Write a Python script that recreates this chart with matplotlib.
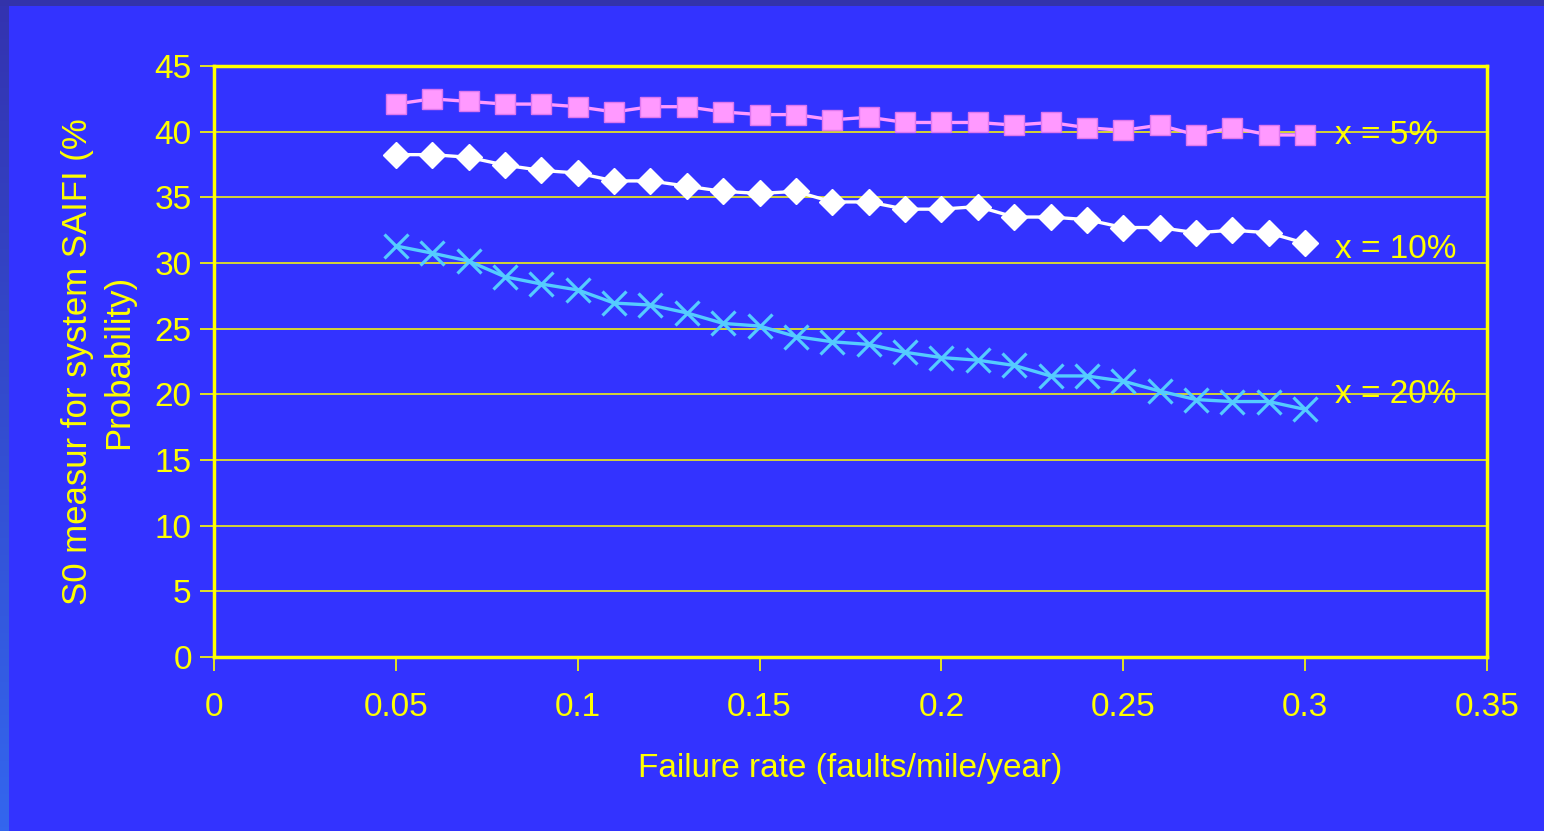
import matplotlib
matplotlib.use("Agg")
import matplotlib.pyplot as plt
import numpy as np
from matplotlib.patches import Rectangle

plt.rcParams['font.family'] = ['Liberation Sans', 'DejaVu Sans']

# failure rate (faults/mile/year)
rate = [0.05, 0.06, 0.07, 0.08, 0.09, 0.10, 0.11, 0.12, 0.13, 0.14, 0.15, 0.16, 0.17,
        0.18, 0.19, 0.20, 0.21, 0.22, 0.23, 0.24, 0.25, 0.26, 0.27, 0.28, 0.29, 0.30]

# S0 measure (% probability) for each x
x5 = [42.1, 42.5, 42.3, 42.1, 42.1, 41.9, 41.5, 41.9, 41.9, 41.5, 41.3, 41.3, 40.9,
      41.1, 40.7, 40.7, 40.7, 40.5, 40.7, 40.3, 40.1, 40.5, 39.75, 40.3, 39.75, 39.75]
x10 = [38.25, 38.25, 38.05, 37.45, 37.05, 36.85, 36.25, 36.25, 35.85, 35.45, 35.3, 35.45, 34.65,
       34.65, 34.1, 34.1, 34.3, 33.5, 33.5, 33.3, 32.7, 32.7, 32.3, 32.5, 32.3, 31.5]
x20 = [31.3, 30.75, 30.15, 28.95, 28.4, 27.95, 26.95, 26.8, 26.2, 25.4, 25.2, 24.4, 24.0,
       23.8, 23.2, 22.8, 22.6, 22.2, 21.4, 21.4, 21.0, 20.25, 19.6, 19.45, 19.45, 18.85]

series_labels = ['x = 5%', 'x = 10%', 'x = 20%']
label_y = [39.7, 31.0, 20.0]

xticks = [0, 0.05, 0.1, 0.15, 0.2, 0.25, 0.3, 0.35]
xticklabels = ['0', '0.05', '0.1', '0.15', '0.2', '0.25', '0.3', '0.35']
yticks = list(range(0, 50, 5))

BG = '#3333FF'
YEL = '#FFFF00'

fig = plt.figure(figsize=(15.44, 8.31), dpi=100)
fig.patch.set_facecolor(BG)

# dark strip on top, shaded strip on the left
fig.patches.append(Rectangle((0, 1 - 6 / 831), 1, 6 / 831, transform=fig.transFigure,
                             facecolor='#3333AA', edgecolor='none', zorder=0))
strip = fig.add_axes([0, 0, 9 / 1544, 1 - 6 / 831])
strip.imshow(np.linspace(0, 1, 200).reshape(-1, 1), aspect='auto',
             cmap=matplotlib.colors.LinearSegmentedColormap.from_list('s', ['#3333B0', '#3366EE']))
strip.axis('off')

ax = fig.add_axes([214 / 1544, 1 - 657 / 831, (1487 - 214) / 1544, (657 - 66) / 831])
ax.set_facecolor(BG)

ax.plot(rate, x5, color='#FF99FF', lw=2.4, marker='s', ms=14.5,
        mfc='#FF99FF', mec='#DD77EE', mew=1, zorder=3)
ax.plot(rate, x10, color='white', lw=2.4, marker='D', ms=13,
        mfc='white', mec='white', mew=1, zorder=3)
ax.plot(rate, x20, color='#55CCFF', lw=2.4, marker='x', ms=17,
        mec='#55CCFF', mew=2.3, zorder=3)

for txt, yv in zip(series_labels, label_y):
    ax.text(0.3082, yv, txt, color=YEL, fontsize=24, ha='left', va='center', zorder=4)

ax.set_xlim(0, 0.35)
ax.set_ylim(0, 45)
ax.set_xticks(xticks)
ax.set_xticklabels(xticklabels)
ax.set_yticks(yticks)

ax.grid(axis='y', color=YEL, lw=1.1, zorder=1)
ax.set_axisbelow(True)
for s in ax.spines.values():
    s.set_color(YEL)
    s.set_linewidth(2.5)

ax.tick_params(colors=YEL, labelsize=24, length=10, width=1.2, direction='out')
ax.tick_params(axis='x', pad=15)
ax.tick_params(axis='y', pad=6)

ax.set_xlabel('Failure rate (faults/mile/year)', color=YEL, fontsize=24, labelpad=22)
ax.set_ylabel('S0 measur for system SAIFI (%\nProbability)', color=YEL, fontsize=25,
              labelpad=14, linespacing=1.3)

fig.savefig('out.png', dpi=100, facecolor=BG)
